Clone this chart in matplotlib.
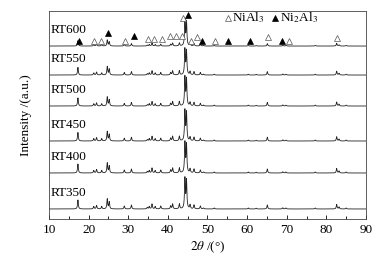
import numpy as np
import matplotlib
matplotlib.use("Agg")
import matplotlib.pyplot as plt

plt.rcParams['font.family'] = ['Liberation Serif', 'DejaVu Serif']
plt.rcParams['mathtext.fontset'] = 'stix'

# XRD peak list (2theta, relative height in plot units)
peak_pos = [17.3, 21.3, 22.0, 23.3, 24.7, 25.2, 29.0, 30.8, 34.8, 35.3, 36.0,
            36.8, 38.2, 40.7, 41.2, 42.9, 44.3, 44.7, 45.6, 46.6, 48.2, 49.0,
            51.7, 60.3, 62.3, 65.1, 69.0, 69.8, 77.2, 82.6, 83.2, 85.0]
peak_h = [9, 2.5, 3.5, 2.5, 10, 7, 3, 4, 1.5, 2.5, 5,
          2.5, 3, 3, 5, 5, 30, 28, 4, 4, 3, 1,
          1, 1, 0.8, 4, 1.2, 1, 1, 4.5, 2, 1]

samples = ['RT350', 'RT400', 'RT450', 'RT500', 'RT550', 'RT600']
offsets = [10, 46, 78, 113, 144, 173]
scales = [1.0, 1.0, 0.95, 0.9, 0.85, 0.6]
main_scale = [1.0, 1.0, 1.0, 0.95, 0.85, 0.85]

# phase markers above RT600 (2theta, y)
nial3_x = [21.3, 23.0, 29.3, 34.9, 36.6, 38.4, 40.5, 42.0, 43.5, 43.8, 45.8, 47.3, 51.9, 65.3, 70.6, 82.8]
nial3_y = [178, 178, 178, 180, 180, 180, 183, 183, 183, 201, 178, 182, 178, 182, 178, 181]
ni2al3_x = [17.6, 25.0, 31.4, 45.2, 48.6, 55.2, 60.7, 68.7]
ni2al3_y = [178, 186, 183, 204, 178, 178, 178, 178]

x = np.linspace(10, 90, 4000)
w = 0.12
fs = 9.5

fig = plt.figure(figsize=(3.81, 2.57), dpi=100)
ax = fig.add_axes([0.1286, 0.148, 0.832, 0.809])

for name, off, sc, ms in zip(samples, offsets, scales, main_scale):
    y = np.zeros_like(x)
    for p, h in zip(peak_pos, peak_h):
        k = ms if h >= 28 else sc
        y += h * k * w**2 / ((x - p)**2 + w**2)
    ax.plot(x, y + off, color='#222222', lw=0.6)
    ax.text(10.4, off + 10, name, fontsize=fs, va='bottom', ha='left')

mk = dict(linestyle='none', marker='^', ms=4.2)
ax.plot(nial3_x, nial3_y, mfc='white', mec='#555555', mew=0.5, **mk)
ax.plot(ni2al3_x, ni2al3_y, mfc='black', mec='black', mew=0.5, **mk)

ax.plot([55.3], [201], mfc='white', mec='#555555', mew=0.5, **mk)
ax.text(56.2, 201, 'NiAl$_3$', fontsize=fs, va='center', ha='left')
ax.plot([67.0], [201], mfc='black', mec='black', mew=0.5, **mk)
ax.text(68.2, 201, 'Ni$_2$Al$_3$', fontsize=fs, va='center', ha='left')

ax.set_xlim(10, 90)
ax.set_ylim(0, 208)
ax.set_xticks(range(10, 91, 10))
ax.set_xticks(range(15, 90, 10), minor=True)
ax.tick_params(axis='x', direction='in', labelsize=fs, length=3, width=0.6)
ax.tick_params(axis='x', which='minor', direction='in', length=2, width=0.6)
ax.set_yticks([])
for s in ax.spines.values():
    s.set_linewidth(0.6)
    s.set_color('#444444')
ax.set_xlabel(r'$2\theta$ /(°)', fontsize=fs, labelpad=3)
ax.set_ylabel('Intensity /(a.u.)', fontsize=fs, labelpad=12)

fig.savefig('out.png', dpi=100)
